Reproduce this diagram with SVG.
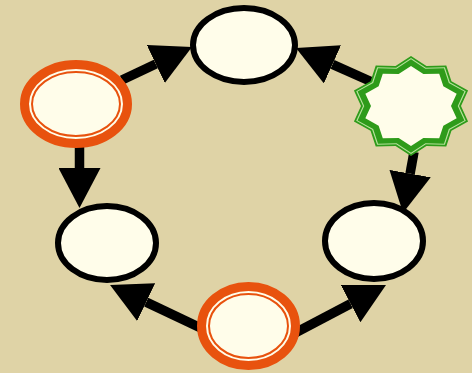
<svg xmlns="http://www.w3.org/2000/svg" xmlns:xlink="http://www.w3.org/1999/xlink" width="472" height="373" viewBox="0 0 472 373">
<style>
.bg{fill:#dfd3a6}
.plain{fill:#fffdea;stroke:#000;stroke-width:6}
.red{fill:#fffdea;stroke:#e8520e;stroke-width:9}
.redin{fill:none;stroke:#e8520e;stroke-width:2}
.shaft{stroke:#000;stroke-width:9.5;fill:none;marker-end:url(#ah)}
</style>
<defs>
<marker id="ah" markerUnits="userSpaceOnUse" viewBox="0 0 40 42" refX="0" refY="21" markerWidth="40" markerHeight="42" orient="auto">
<path d="M0,0 L40,21 L0,42 z" fill="#000"/>
</marker>
<polygon id="star" points="0,-50 15.45,-39.95 35.27,-40.45 40.45,-24.69 57.07,-15.45 50,0 57.07,15.45 40.45,24.69 35.27,40.45 15.45,39.95 0,50 -15.45,39.95 -35.27,40.45 -40.45,24.69 -57.07,15.45 -50,0 -57.07,-15.45 -40.45,-24.69 -35.27,-40.45 -15.45,-39.95"/>
</defs>
<rect class="bg" x="0" y="0" width="472" height="373"/>
<g id="connectors">
<path class="shaft" d="M122,80 L155.8,64"/>
<path class="shaft" d="M372,82 L332.5,64.3"/>
<path class="shaft" d="M79.5,146 L79.5,168"/>
<path class="shaft" d="M414,152 L410.1,173.6"/>
<path class="shaft" d="M205,330 L146.2,302.1"/>
<path class="shaft" d="M295,333 L350.6,303.7"/>
</g>
<g id="n-top"><ellipse class="plain" cx="244" cy="45" rx="51" ry="37"/></g>
<g id="n-left-red"><ellipse class="red" cx="76" cy="104" rx="51.5" ry="39.5"/><ellipse class="redin" cx="76" cy="104" rx="44" ry="32"/></g>
<g id="n-star">
<use xlink:href="#star" href="#star" transform="translate(411,106)" fill="#2e9b1a"/>
<use xlink:href="#star" href="#star" transform="translate(411,106) scale(0.96)" fill="#b8e29c"/>
<use xlink:href="#star" href="#star" transform="translate(411,106) scale(0.935)" fill="#2e9b1a"/>
<use xlink:href="#star" href="#star" transform="translate(411,106) scale(0.8)" fill="#fffdea"/>
</g>
<g id="n-left-low"><ellipse class="plain" cx="107" cy="243" rx="49" ry="37"/></g>
<g id="n-right-low"><ellipse class="plain" cx="374" cy="241" rx="49" ry="38"/></g>
<g id="n-bottom-red"><ellipse class="red" cx="248.5" cy="326" rx="47" ry="39.5"/><ellipse class="redin" cx="248.5" cy="326" rx="39.5" ry="32"/></g>
</svg>
